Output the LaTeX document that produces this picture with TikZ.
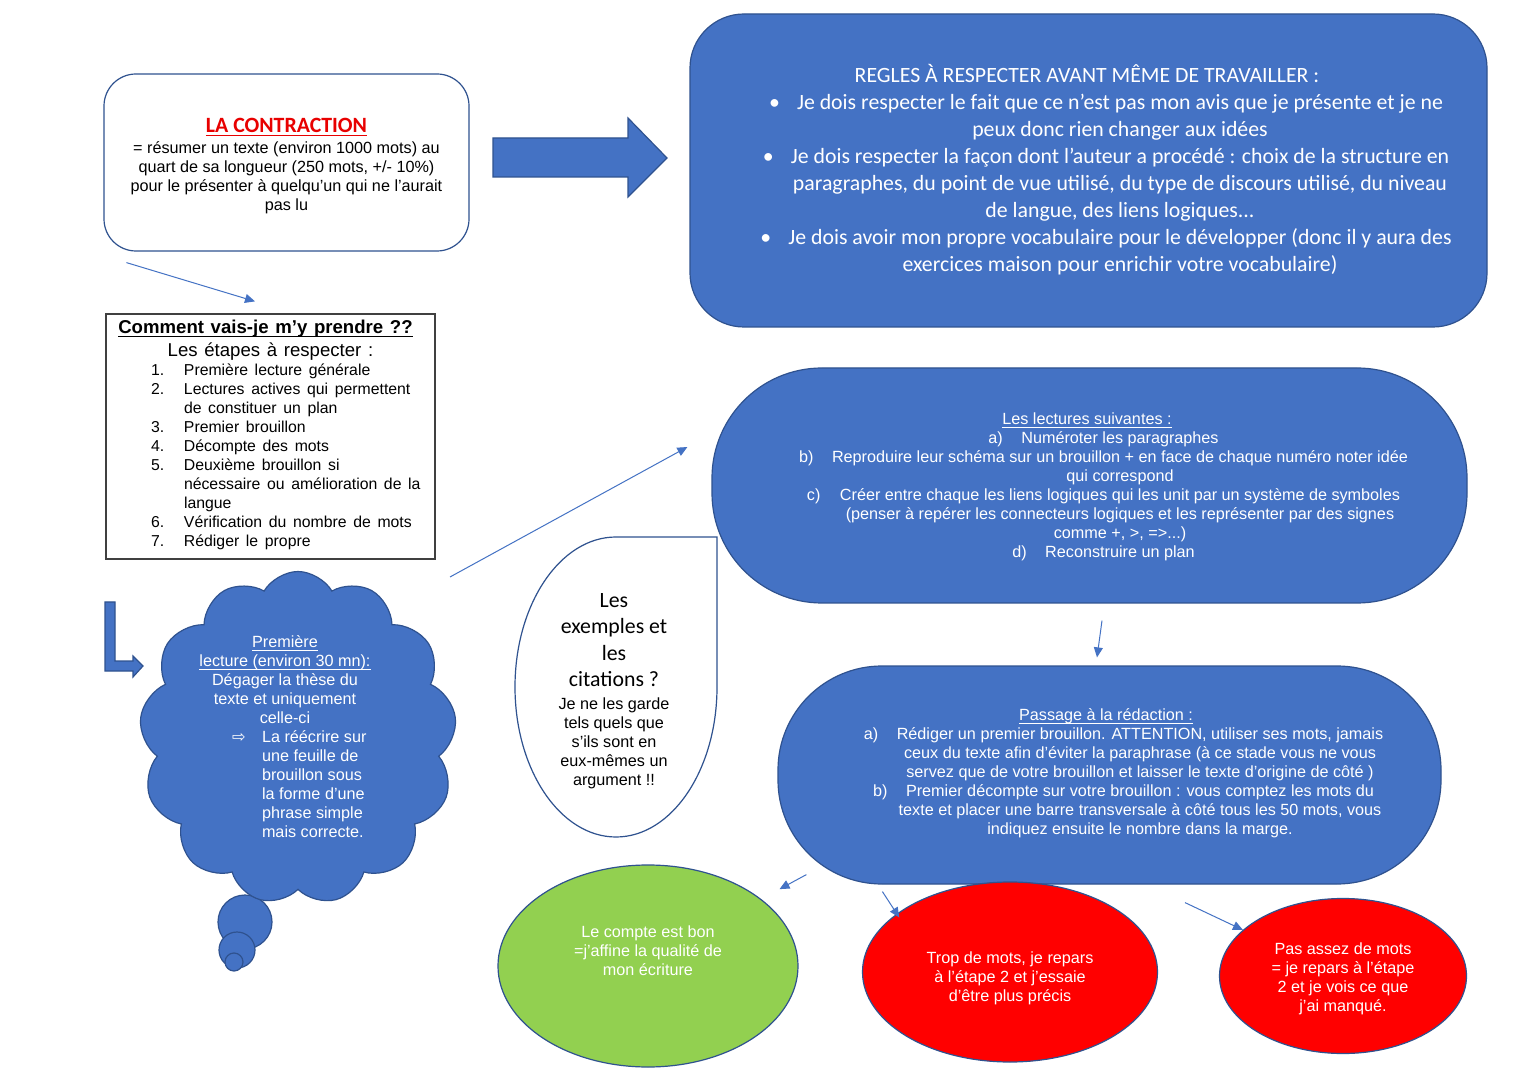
\documentclass[tikz,border=0pt]{standalone}
\usepackage{fontspec}
\setmainfont{Liberation Sans}
\newfontfamily\calib{Carlito}
\newfontfamily\djv{DejaVu Sans}
\usetikzlibrary{shapes.geometric,shapes.symbols,arrows.meta}
\definecolor{royalblue}{RGB}{68, 114, 196}
\definecolor{marine}{RGB}{47, 82, 143}
\definecolor{yellowgreen}{RGB}{146, 208, 80}
\definecolor{signalred}{RGB}{255, 0, 0}
\definecolor{titlered}{RGB}{232, 0, 0}
\newcommand{\arialtxt}{\fontsize{8.1}{9.5}\selectfont}
\newcommand{\calibtxt}{\calib\fontsize{10.9}{13.5}\selectfont}
\newcommand{\undl}[1]{\underline{\raisebox{0pt}[\height][0pt]{#1}}}
\newcommand{\lbl}[2]{\leavevmode\llap{\makebox[#1][l]{#2}}}
\begin{document}
\begin{tikzpicture}[x=0.5pt, y=-0.5pt,
    bluebox/.style={draw=marine, fill=royalblue, line width=0.6pt},
    oval/.style={ellipse, draw=marine, line width=0.6pt, inner sep=0pt},
    whitetext/.style={text=white, align=flush center, font=\arialtxt, inner sep=0pt},
    thinarrow/.style={draw=royalblue, line width=0.5pt, -{Triangle[length=5pt, width=4.5pt]}}]
            \fill[white]                                    (0,0) rectangle (1527,1080);
            \useasboundingbox                               (0,0) rectangle (1527,1080);
            \node[draw=marine, line width=0.6pt, rounded corners=16pt, minimum width=182.5pt, minimum height=88.5pt,
                  text width=165pt, align=flush center, inner sep=0pt] (contraction) at (286.5,162.5)
                 {{\calibtxt\bfseries\rule{0pt}{10.5pt}\textcolor{titlered}{\undl{LA CONTRACTION}}\par}\vspace{1pt}
                  {\arialtxt = résumer un texte (environ 1000 mots) au\\ quart de sa longueur (250 mots, +/- 10\%)\\
                   pour le présenter à quelqu’un qui ne l’aurait\\ pas lu\par}};
            \filldraw[bluebox] (493,138) -- (628,138) -- (628,118) -- (667,158) -- (628,197) -- (628,177) -- (493,177) -- cycle;
            \node[draw=black!75, line width=0.6pt, minimum height=122.5pt, text width=164.5pt, inner sep=0pt] (steps) at (270.5,436.5)
                 {{\centering\fontsize{9.3}{11.5}\selectfont\hspace*{-5pt}\textbf{\undl{Comment vais-je m’y prendre ??}}\\ Les étapes à respecter :\par}
                  \fontsize{7.9}{9.5}\selectfont\noindent
                  \begin{tabular}[t]{@{\hspace{22.5pt}}p{16.5pt}@{}p{125pt}@{}}
                  1. & Première lecture générale\\
                  2. & Lectures actives qui permettent\newline de constituer un plan\\
                  3. & Premier brouillon\\
                  4. & Décompte des mots\\
                  5. & Deuxième brouillon si\newline nécessaire ou amélioration de la\newline langue\\
                  6. & Vérification du nombre de mots\\
                  7. & Rédiger le propre
                  \end{tabular}\par};
            \filldraw[bluebox] (105,602) -- (115,602) -- (115,661) -- (133,661) -- (133,656) -- (143,666) -- (133,677) -- (133,671) -- (105,671) -- cycle;
            \filldraw[bluebox] (245,922) circle[radius=27];
            \filldraw[bluebox] (237,950) circle[radius=18];
            \filldraw[bluebox] (234,962) circle[radius=9];
            \node[bluebox, cloud, cloud puffs=13, cloud puff arc=120, cloud ignores aspect,
                  minimum width=158.5pt, minimum height=166.5pt, inner sep=0pt] (thought) at (298,738) {};
            \node[whitetext, text width=90pt] (thoughttext) at (285,737)
                 {\undl{Première}\\ \undl{lecture (environ 30 mn):}\\ Dégager la thèse du\\ texte et uniquement\\ celle-ci\par
                  \noindent\hspace*{18.5pt}\makebox[15pt][l]{\djv ⇨}\makebox[56.5pt][l]{\parbox[t]{70pt}{\raggedright La réécrire sur\\ une feuille de\\
                  brouillon sous\\ la forme d’une\\ phrase simple\\ mais correcte.}}};
            \filldraw[draw=marine, fill=white, line width=0.6pt] (616,537) -- (717,537) -- (717,687)
                 arc[start angle=0, end angle=270, x radius=101, y radius=150] -- cycle;
            \node[align=flush center, text width=95pt, inner sep=0pt] (quotes) at (614,691)
                 {{\calibtxt\fontsize{10.9}{13.25}\selectfont Les\\ exemples et\\ les\\ citations ?\par}\vspace{2pt}
                  {\arialtxt Je ne les garde\\ tels quels que\\ s’ils sont en\\ eux-mêmes un\\ argument !!\par}};
            \node[bluebox, rounded corners=27pt, minimum width=398.5pt, minimum height=156.5pt] (rules) at (1088.5,170.5) {};
            \node[whitetext, font=\calibtxt, text width=380pt] (rulestext) at (1120,170)
                 {\hspace*{-33pt}REGLES À RESPECTER AVANT MÊME DE TRAVAILLER :\\
                  \lbl{14pt}{•}Je dois respecter le fait que ce n’est pas mon avis que je présente et je ne\\
                  peux donc rien changer aux idées\\
                  \lbl{14pt}{•}Je dois respecter la façon dont l’auteur a procédé : choix de la structure en\\
                  paragraphes, du point de vue utilisé, du type de discours utilisé, du niveau\\
                  de langue, des liens logiques...\\
                  \lbl{14pt}{•}Je dois avoir mon propre vocabulaire pour le développer (donc il y aura des\\
                  exercices maison pour enrichir votre vocabulaire)};
            \node[bluebox, rounded corners=55pt, minimum width=377.5pt, minimum height=117.5pt] (lectures) at (1089.5,485.5) {};
            \node[whitetext, text width=330pt] (lecturestext) at (1120,487)
                 {\hspace*{-33pt}\undl{Les lectures suivantes :}\\
                  \lbl{16.5pt}{a)}Numéroter les paragraphes\\
                  \lbl{16.5pt}{b)}Reproduire leur schéma sur un brouillon + en face de chaque numéro noter idée\\
                  qui correspond\\
                  \lbl{16.5pt}{c)}Créer entre chaque les liens logiques qui les unit par un système de symboles\\
                  (penser à repérer les connecteurs logiques et les représenter par des signes\\
                  comme +, >, =>...)\\
                  \lbl{16.5pt}{d)}Reconstruire un plan};
            \node[bluebox, rounded corners=52pt, minimum width=331.5pt, minimum height=109pt] (passage) at (1109.5,775) {};
            \node[whitetext, text width=290pt] (passagetext) at (1140,773)
                 {\hspace*{-34pt}\undl{Passage à la rédaction :}\\
                  \lbl{16.5pt}{a)}Rédiger un premier brouillon. ATTENTION, utiliser ses mots, jamais\\
                  ceux du texte afin d’éviter la paraphrase (à ce stade vous ne vous\\
                  servez que de votre brouillon et laisser le texte d’origine de côté )\\
                  \lbl{16.5pt}{b)}Premier décompte sur votre brouillon : vous comptez les mots du\\
                  texte et placer une barre transversale à côté tous les 50 mots, vous\\
                  indiquez ensuite le nombre dans la marge.};
            \node[oval, fill=yellowgreen, minimum width=150pt,   minimum height=101pt]  (good) at (648,966)  {};
            \node[oval, fill=signalred,   minimum width=147.5pt, minimum height=90pt]   (toomany) at (1010,972) {};
            \node[oval, fill=signalred,   minimum width=123.5pt, minimum height=77.5pt] (toofew) at (1343,976) {};
            \node[whitetext] (goodtext)    at ([yshift=7.5pt]good.center)     {Le compte est bon\\ =j’affine la qualité de\\ mon écriture};
            \node[whitetext] (toomanytext) at ([yshift=-3pt]toomany.center)   {Trop de mots, je repars\\ à l’étape 2 et j’essaie\\ d’être plus précis};
            \node[whitetext] (toofewtext)  at ([yshift=-1.5pt]toofew.center)  {Pas assez de mots\\ = je repars à l’étape\\ 2 et je vois ce que\\ j’ai manqué.};
            \draw[thinarrow] ([shift={(23,11)}]contraction.south west) -- ([shift={(-15.5,-12)}]steps.north);
            \draw[thinarrow] ([shift={(152,-161)}]thought.center)      -- ([shift={(-24,-38.5)}]lectures.west);
            \draw[thinarrow] ([shift={(12.5,17)}]lectures.south)       -- ([shift={(-12.5,-8)}]passage.north);
            \draw[thinarrow] ([shift={(29,-10)}]passage.south west)    -- ([shift={(25,-5)}]good.north east);
            \draw[thinarrow] ([shift={(105,7)}]passage.south west)     -- ([shift={(-6,9.6)}]toomany.north west);
            \draw[thinarrow] ([shift={(75.5,18)}]passage.south)        -- ([shift={(-12.3,9.2)}]toofew.north west);
\end{tikzpicture}
\end{document}
